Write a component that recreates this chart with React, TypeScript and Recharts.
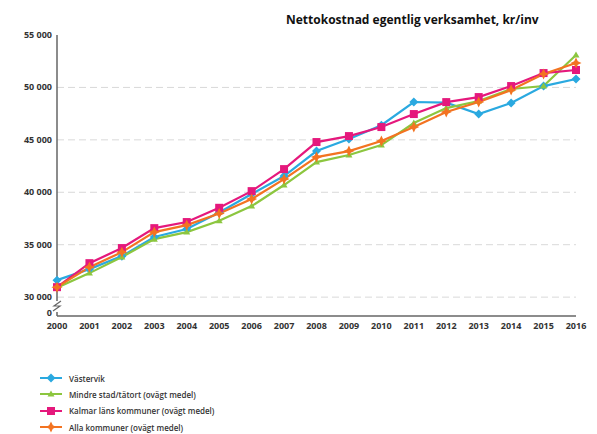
import { LineChart, Line, XAxis, YAxis, CartesianGrid } from 'recharts';

const YEARS = ['2000', '2001', '2002', '2003', '2004', '2005', '2006', '2007', '2008', '2009', '2010', '2011', '2012', '2013', '2014', '2015', '2016'];
const VASTERVIK = [31620, 32670, 33910, 35730, 36490, 38070, 39830, 41550, 43930, 45080, 46400, 48610, 48550, 47460, 48510, 50130, 50800];
const MINDRE = [30900, 32290, 33820, 35530, 36200, 37280, 38680, 40690, 42880, 43550, 44500, 46600, 48030, 48700, 49850, 50130, 53090];
const KALMAR = [30950, 33240, 34680, 36580, 37160, 38520, 40110, 42210, 44790, 45360, 46220, 47460, 48600, 49080, 50130, 51370, 51660];
const ALLA = [30950, 32860, 34290, 36200, 36870, 37980, 39350, 41260, 43360, 43930, 44890, 46220, 47650, 48610, 49750, 51280, 52330];

// bottom of the broken axis, shown as "0"
const AXIS_FLOOR = 28200;
const Y_TICKS = [AXIS_FLOOR, 30000, 35000, 40000, 45000, 50000, 55000];

const data = YEARS.map((year, i) => ({
  year,
  vastervik: VASTERVIK[i],
  mindre: MINDRE[i],
  kalmar: KALMAR[i],
  alla: ALLA[i],
}));

const FONT = '"Open Sans", sans-serif';

type Shape = 'diamond' | 'triangle' | 'square' | 'star';

const series: { key: string; name: string; color: string; shape: Shape }[] = [
  { key: 'vastervik', name: 'Västervik', color: '#2aa9e0', shape: 'diamond' },
  { key: 'mindre', name: 'Mindre stad/tätort (ovägt medel)', color: '#8cc63f', shape: 'triangle' },
  { key: 'kalmar', name: 'Kalmar läns kommuner (ovägt medel)', color: '#e5187c', shape: 'square' },
  { key: 'alla', name: 'Alla kommuner (ovägt medel)', color: '#f37321', shape: 'star' },
];

function markerPath(shape: Shape, cx: number, cy: number) {
  switch (shape) {
    case 'diamond':
      return `M${cx},${cy - 4.5}L${cx + 4.5},${cy}L${cx},${cy + 4.5}L${cx - 4.5},${cy}Z`;
    case 'triangle':
      return `M${cx},${cy - 3.5}L${cx + 3.5},${cy + 2.5}L${cx - 3.5},${cy + 2.5}Z`;
    case 'square':
      return `M${cx - 4},${cy - 4}h8v8h-8Z`;
    default:
      return `M${cx},${cy - 5.5}L${cx + 1.8},${cy - 1.8}L${cx + 5.5},${cy}L${cx + 1.8},${cy + 1.8}L${cx},${cy + 5.5}L${cx - 1.8},${cy + 1.8}L${cx - 5.5},${cy}L${cx - 1.8},${cy - 1.8}Z`;
  }
}

function makeDot(shape: Shape, color: string) {
  return (props: any) => {
    const { cx, cy, index } = props;
    if (cx == null || cy == null) return <g key={`d-${index}`} />;
    return <path key={`d-${index}`} d={markerPath(shape, cx, cy)} fill={color} />;
  };
}

function fmt(v: number) {
  if (v === AXIS_FLOOR) return '0';
  return String(v).replace(/\B(?=(\d{3})+(?!\d))/g, ' ');
}

function YTick(props: any) {
  const { x, y, payload } = props;
  const isFloor = payload.value === AXIS_FLOOR;
  const ax = x + 5;
  return (
    <g>
      {isFloor && (
        <g>
          <rect x={ax - 2} y={y - 15} width={4} height={11} fill="#fff" />
          <path d={`M${ax - 4},${y - 5}L${ax + 3},${y - 10}L${ax - 3},${y - 10}L${ax + 4},${y - 15}`} stroke="#666" strokeWidth={1.2} fill="none" />
        </g>
      )}
      <text x={x} y={y} dy={isFloor ? 0 : 3} textAnchor="end" fontSize={9} fontWeight={700} fill="#333" fontFamily={FONT}>
        {fmt(payload.value)}
      </text>
    </g>
  );
}

export default function App() {
  return (
    <div style={{ position: 'fixed', left: 0, top: 0, width: 597, height: 434, background: '#fff' }}>
      <div
        style={{
          position: 'absolute',
          left: 286,
          top: 11,
          fontFamily: FONT,
          fontWeight: 700,
          fontSize: 12,
          color: '#111',
          whiteSpace: 'nowrap',
        }}
      >
        Nettokostnad egentlig verksamhet, kr/inv
      </div>
      <LineChart width={597} height={434} data={data} margin={{ top: 35, right: 21, bottom: 98, left: 0 }}>
        <CartesianGrid
          vertical={false}
          horizontalValues={[30000, 35000, 40000, 45000, 50000]}
          stroke="#d9d9d9"
          strokeDasharray="7 4"
        />
        <XAxis
          dataKey="year"
          tickSize={0}
          tickMargin={7}
          height={20}
          stroke="#666"
          strokeWidth={1.5}
          tick={{ fontSize: 9, fontWeight: 700, fill: '#333', fontFamily: FONT }}
        />
        <YAxis
          width={57}
          domain={[AXIS_FLOOR, 55000]}
          ticks={Y_TICKS}
          interval={0}
          tickSize={0}
          tickMargin={5}
          stroke="#666"
          strokeWidth={1.5}
          tick={<YTick />}
        />
        {series.map(s => (
          <Line
            key={s.key}
            type="linear"
            dataKey={s.key}
            name={s.name}
            stroke={s.color}
            strokeWidth={2.2}
            dot={makeDot(s.shape, s.color)}
            activeDot={false}
            isAnimationActive={false}
          />
        ))}
      </LineChart>
      <div style={{ position: 'absolute', left: 38, top: 370, fontFamily: FONT }}>
        {series.map(s => (
          <div key={s.key} style={{ display: 'flex', alignItems: 'center', height: 16.3 }}>
            <svg width={26} height={12}>
              <line x1={2} y1={6} x2={24} y2={6} stroke={s.color} strokeWidth={2} />
              <path d={markerPath(s.shape, 13, 6)} fill={s.color} />
            </svg>
            <span style={{ marginLeft: 5, fontSize: 8, fontWeight: 600, color: '#333' }}>{s.name}</span>
          </div>
        ))}
      </div>
    </div>
  );
}
